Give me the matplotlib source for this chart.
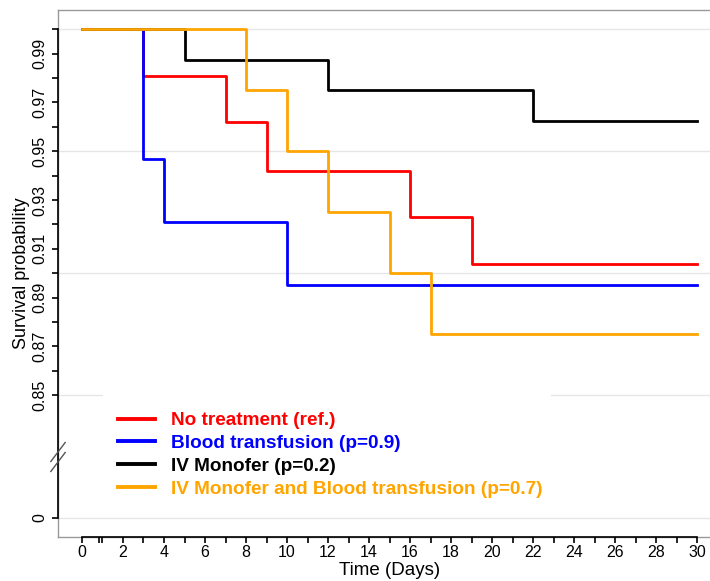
import numpy as np
import matplotlib
matplotlib.use("Agg")
import matplotlib.pyplot as plt
from matplotlib.ticker import FixedLocator, FixedFormatter, NullFormatter
from matplotlib.patches import Rectangle

plt.rcParams['font.family'] = ['Liberation Sans', 'DejaVu Sans']

# ---- data ----
groups = ["No treatment (ref.)", "Blood transfusion (p=0.9)",
          "IV Monofer (p=0.2)", "IV Monofer and Blood transfusion (p=0.7)"]
colors = ["#ff0000", "#0000ff", "#000000", "#ffa500"]

no_treat_t = [0, 3, 7, 9, 16, 19, 30]
no_treat_s = [1.0, 0.981, 0.962, 0.942, 0.923, 0.904, 0.904]
blood_t = [0, 3, 4, 10, 30]
blood_s = [1.0, 0.947, 0.921, 0.895, 0.895]
mono_t = [0, 5, 12, 22, 30]
mono_s = [1.0, 0.9875, 0.975, 0.9625, 0.9625]
both_t = [0, 8, 10, 12, 15, 17, 30]
both_s = [1.0, 0.975, 0.95, 0.925, 0.90, 0.875, 0.875]

y_major = [0.99, 0.97, 0.95, 0.93, 0.91, 0.89, 0.87, 0.85, 0.0]
y_major_labels = ["0.99", "0.97", "0.95", "0.93", "0.91", "0.89", "0.87", "0.85", "0"]
y_minor = [1.00, 0.98, 0.96, 0.94, 0.92, 0.90, 0.88, 0.86]
y_grid = [1.00, 0.95, 0.90, 0.85, 0.0]
x_major = list(range(0, 31, 2))
x_minor = list(range(1, 31, 2)) + [0.85]

# ---- broken y scale ----
BRK = 0.85
K = 0.05916


def fwd(v):
    v = np.asarray(v, dtype=float)
    return np.where(v >= BRK, v, BRK - (BRK - v) * K)


def inv(u):
    u = np.asarray(u, dtype=float)
    return np.where(u >= BRK, u, BRK - (BRK - u) / K)


W, H = 710, 581
AX_L, AX_T, AX_B = 58, 10, 537
fig = plt.figure(figsize=(W / 100, H / 100), dpi=100)
ax = fig.add_axes([AX_L / W, 1 - AX_B / H, 1 - AX_L / W, (AX_B - AX_T) / H])
ax.set_yscale('function', functions=(fwd, inv))
xmin, xmax = -1.17, 30.63
ax.set_xlim(xmin, xmax)
ax.set_ylim(-0.1316, 1.0079)


def axfx(px):
    return (px - AX_L) / (W - AX_L)


def axfy(py):
    return (AX_B - py) / (AX_B - AX_T)


for g in y_grid:
    ax.axhline(g, color="#e6e6e6", lw=1.0, zorder=0)

series = [(no_treat_t, no_treat_s), (blood_t, blood_s), (mono_t, mono_s), (both_t, both_s)]
for (t, s), c, lab in zip(series, colors, groups):
    ax.step(t, s, where='post', color=c, lw=2.0, label=lab, zorder=3)

# spines: black axis lines over the tick range, grey box elsewhere
for side in ['top', 'right']:
    ax.spines[side].set_visible(False)
ax.spines['left'].set_bounds(0.0, 1.0)
ax.spines['bottom'].set_bounds(0, 30)
ax.spines['left'].set_linewidth(1.2)
ax.spines['bottom'].set_linewidth(1.2)
box = dict(color="#9a9a9a", lw=1.0, transform=ax.transAxes, clip_on=False, zorder=1)
ax.plot([0, 1], [1, 1], **box)
ax.plot([0, 0], [0, 1], **box)
ax.plot([0, 1], [0, 0], **box)

# ticks
ax.yaxis.set_major_locator(FixedLocator(y_major))
ax.yaxis.set_major_formatter(FixedFormatter(y_major_labels))
ax.yaxis.set_minor_locator(FixedLocator(y_minor))
ax.yaxis.set_minor_formatter(NullFormatter())
ax.xaxis.set_major_locator(FixedLocator(x_major))
ax.xaxis.set_minor_locator(FixedLocator(x_minor))
ax.xaxis.set_minor_formatter(NullFormatter())
ax.tick_params(axis='both', which='both', direction='out', length=4, width=1.2, color='black')
ax.tick_params(axis='y', which='major', labelsize=11.5, pad=4)
ax.tick_params(axis='x', which='major', labelsize=11.5, pad=1.5)
for lab in ax.get_yticklabels():
    lab.set_rotation(90)
    lab.set_va('center')

ax.set_ylabel("Survival probability", fontsize=13, labelpad=1)
ax.set_xlabel("Time (Days)", fontsize=13.5, labelpad=0)
ax.xaxis.set_label_coords((15 - xmin) / (xmax - xmin), -0.047)

# axis break marks on the y axis
for py in (452, 462):
    yc = axfy(py)
    ax.plot([-0.011, 0.011], [yc - 0.018, yc + 0.018], color="#555555", lw=1.0,
            transform=ax.transAxes, clip_on=False, zorder=5)

# white legend background (hides the gridline under the legend)
ax.add_patch(Rectangle((axfx(103), axfy(505)), axfx(551) - axfx(103), axfy(391) - axfy(505),
                       transform=ax.transAxes, facecolor='white', edgecolor='none', zorder=2))

leg = ax.legend(loc='upper left', bbox_to_anchor=(axfx(118), axfy(412)),
                borderaxespad=0, frameon=False, prop={'weight': 'bold', 'size': 13.7},
                handlelength=1.95, handletextpad=0.85, labelspacing=0.29, borderpad=0)
for line in leg.get_lines():
    line.set_linewidth(2.8)
for txt, c in zip(leg.get_texts(), colors):
    txt.set_color(c)
leg.set_zorder(4)

fig.savefig("out.png", dpi=100)
